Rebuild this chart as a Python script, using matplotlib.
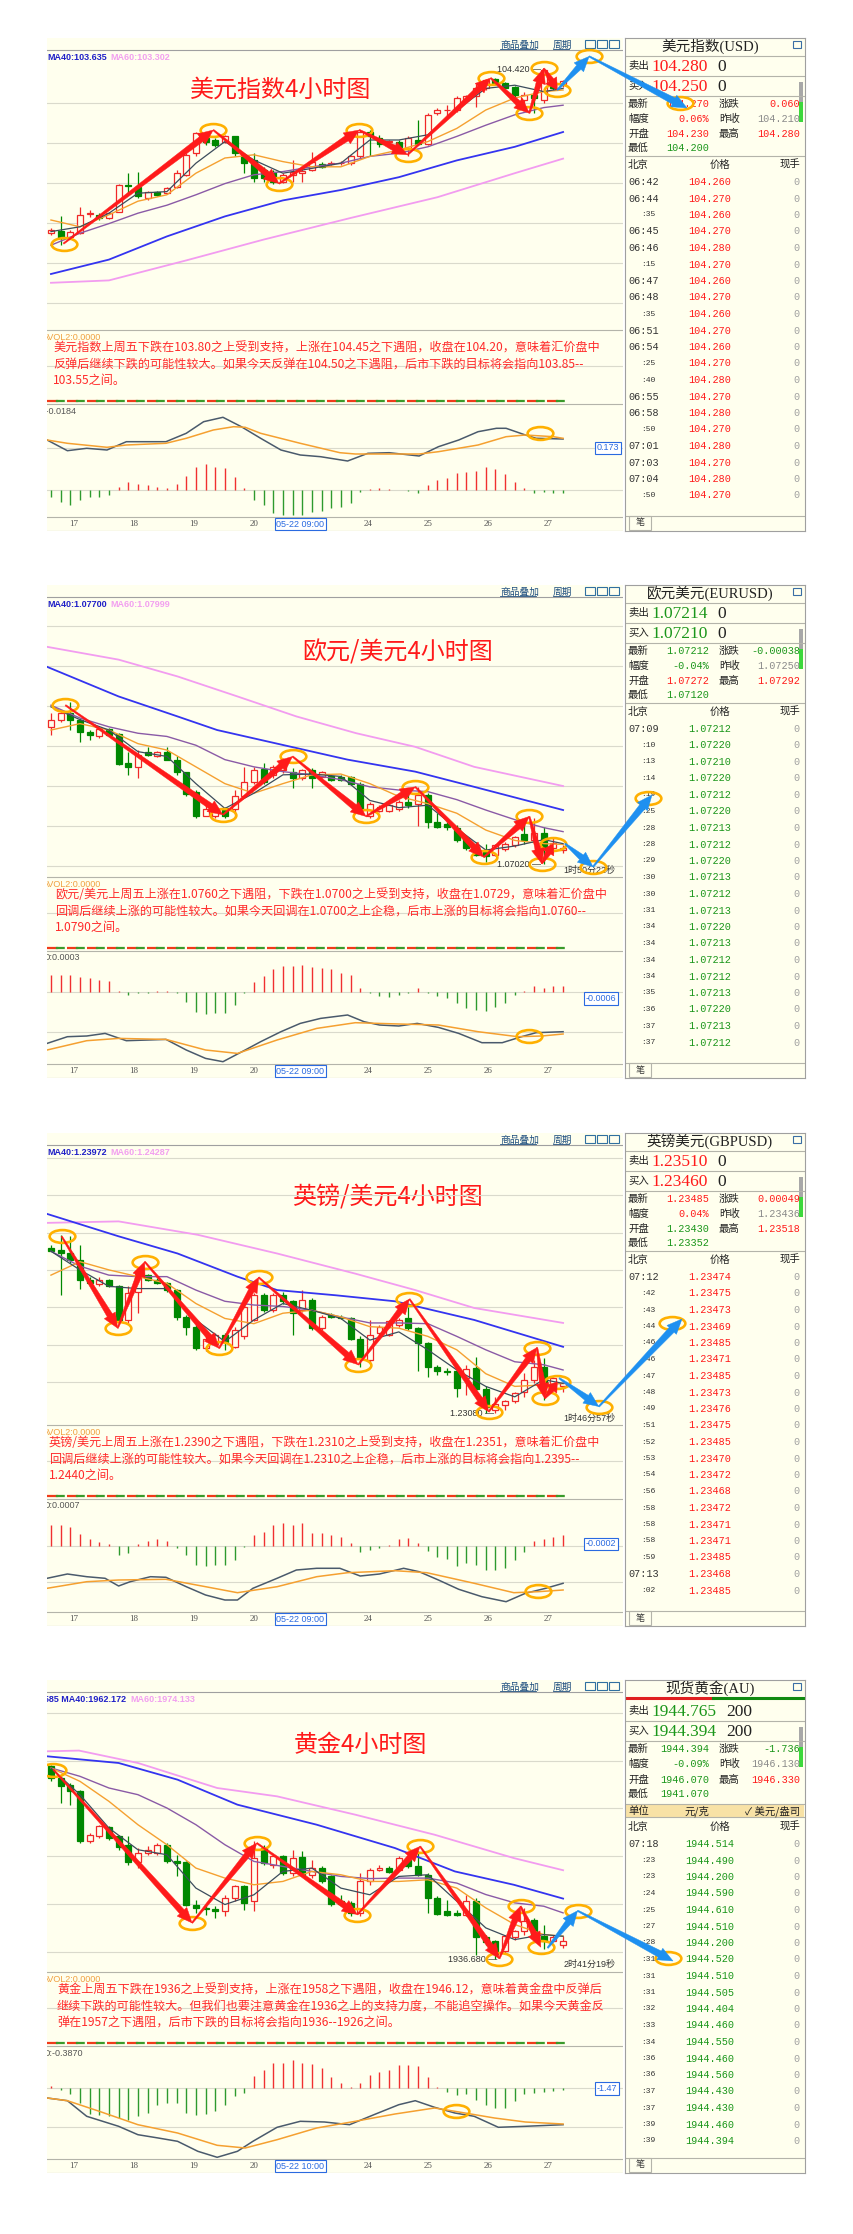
import numpy as np
import matplotlib.pyplot as plt
from matplotlib.patches import Rectangle, Polygon
from matplotlib.path import Path
from matplotlib.transforms import Affine2D

plt.rcParams['font.family'] = ['Noto Sans CJK SC', 'DejaVu Sans']

# ---------------- 数据 (从截图读取) ----------------
ma_idx = [0, 3, 6, 9, 12, 15, 18, 21, 24, 27, 30, 33, 36, 39, 42, 45, 48, 51, 53]
day_ticks = [2.4, 8.6, 14.8, 21.0, 32.8, 39.0, 45.2, 51.4]
day_labels = ['17', '18', '19', '20', '24', '25', '26', '27']

# 美元指数
usd_open = [102.37, 102.40, 102.32, 102.37, 102.61, 102.60, 102.56, 102.64, 102.97, 102.95,
            102.81, 102.89, 102.87, 102.95, 103.10, 103.37, 103.56, 103.535, 103.515, 103.58,
            103.35, 103.285, 103.16, 103.14, 103.015, 103.10, 103.12, 103.16, 103.235, 103.24,
            103.245, 103.245, 103.33, 103.64, 103.56, 103.515, 103.515, 103.43, 103.535, 103.49,
            103.87, 103.91, 103.91, 104.035, 104.08, 104.18, 104.30, 104.25, 104.20, 104.035,
            104.10, 104.035, 104.26, 104.24]
usd_close = [102.41, 102.31, 102.39, 102.60, 102.62, 102.56, 102.62, 102.97, 102.96, 102.83,
             102.89, 102.85, 102.93, 103.12, 103.35, 103.62, 103.515, 103.47, 103.58, 103.37,
             103.245, 103.06, 103.06, 103.015, 103.10, 103.14, 103.15, 103.265, 103.20, 103.245,
             103.25, 103.33, 103.64, 103.58, 103.49, 103.52, 103.45, 103.56, 103.49, 103.85,
             103.91, 103.915, 104.06, 104.08, 104.18, 104.285, 104.25, 104.19, 104.10, 104.10,
             104.06, 104.41, 104.18, 104.27]
usd_high = [102.43, 102.58, 102.41, 102.70, 102.66, 102.62, 102.64, 102.98, 103.12, 103.14,
            102.90, 102.90, 102.95, 103.16, 103.37, 103.63, 103.64, 103.56, 103.60, 103.59,
            103.37, 103.37, 103.20, 103.16, 103.12, 103.285, 103.20, 103.39, 103.26, 103.27,
            103.27, 103.35, 103.66, 103.66, 103.60, 103.54, 103.53, 103.58, 103.785, 103.87,
            103.93, 103.97, 104.08, 104.10, 104.24, 104.30, 104.31, 104.26, 104.21, 104.14,
            104.14, 104.42, 104.28, 104.28]
usd_low = [102.35, 102.22, 102.30, 102.36, 102.57, 102.54, 102.55, 102.63, 102.87, 102.81,
           102.79, 102.84, 102.86, 102.93, 103.09, 103.33, 103.47, 103.45, 103.50, 103.33,
           103.12, 103.015, 103.015, 102.99, 103.00, 103.015, 103.015, 103.15, 103.18, 103.22,
           103.22, 103.22, 103.31, 103.33, 103.45, 103.49, 103.43, 103.33, 103.47, 103.47,
           103.85, 103.83, 103.89, 104.02, 103.95, 104.16, 104.22, 104.17, 104.06, 103.91,
           103.87, 104.00, 104.16, 104.20]
usd_ma5 = [102.39, 102.45, 102.62, 102.87, 102.89, 103.245, 103.515, 103.285, 103.12, 103.18,
           103.245, 103.535, 103.535, 103.60, 103.91, 104.18, 104.22, 104.14, 104.18]
usd_ma10 = [102.535, 102.45, 102.60, 102.77, 102.85, 103.12, 103.31, 103.35, 103.265, 103.20,
            103.20, 103.33, 103.41, 103.515, 103.68, 103.91, 104.06, 104.14, 104.16]
usd_ma20 = [102.22, 102.37, 102.49, 102.62, 102.72, 102.85, 102.99, 103.10, 103.14, 103.20,
            103.245, 103.33, 103.37, 103.45, 103.58, 103.72, 103.85, 103.94, 103.97]
usd_ma40_idx = [0, 6, 12, 18, 24, 30, 36, 42, 48, 53]
usd_ma40 = [101.86, 102.04, 102.33, 102.58, 102.78, 102.91, 103.07, 103.28, 103.45, 103.635]
usd_ma60_idx = [0, 6, 14, 22, 31, 40, 48, 53]
usd_ma60 = [101.75, 101.78, 102.03, 102.29, 102.56, 102.82, 103.12, 103.302]
usd_hist = [-0.067, -0.117, -0.15, -0.10, -0.067, -0.067, -0.05, 0.033, 0.083, 0.06,
            0.05, 0.033, 0.017, 0.06, 0.14, 0.233, 0.26, 0.233, 0.217, 0.127,
            0.017, -0.10, -0.15, -0.233, -0.25, -0.25, -0.25, -0.217, -0.207, -0.183,
            -0.167, -0.133, -0.023, 0.007, 0.017, 0.01, 0.003, -0.007, -0.027, 0.05,
            0.10, 0.117, 0.167, 0.177, 0.193, 0.227, 0.207, 0.16, 0.083, 0.017,
            -0.033, -0.023, -0.033, -0.033]
usd_dif_idx = [-0.4, 1.7, 3.7, 5.8, 7.8, 11.9, 14.0, 15.8, 17.8, 19.7, 21.7, 23.8, 25.8,
               27.9, 30.7, 32.8, 35.0, 38.1, 40.1, 42.2, 44.2, 46.1, 47.1, 49.1, 50.2, 53.0]
usd_dif = [0.50, 0.393, 0.417, 0.40, 0.483, 0.483, 0.567, 0.683, 0.727, 0.633, 0.517, 0.40, 0.35,
           0.333, 0.29, 0.367, 0.373, 0.34, 0.433, 0.50, 0.583, 0.617, 0.617, 0.55, 0.517, 0.51]
usd_dea_idx = [-0.4, 1.7, 5.8, 7.8, 11.9, 14.0, 16.8, 18.9, 20.1, 21.7, 25.8, 29.9, 31.5,
               38.1, 40.1, 44.2, 47.1, 49.1, 52.0, 53.0]
usd_dea = [0.50, 0.467, 0.427, 0.45, 0.467, 0.517, 0.60, 0.633, 0.627, 0.567, 0.467, 0.373, 0.36,
           0.36, 0.383, 0.45, 0.533, 0.55, 0.533, 0.517]
usd_zig_idx = [1.3, 16.8, 23.6, 31.9, 36.9, 45.5, 49.5, 51.0, 52.4]
usd_zig = [102.24, 103.66, 102.99, 103.66, 103.35, 104.31, 103.87, 104.43, 104.16]
usd_blue_idx = [52.4, 55.7]
usd_blue = [104.16, 104.58]

# 欧元/美元
eur_open = [1.0874, 1.0883, 1.0891, 1.0883, 1.0868, 1.0862, 1.0871, 1.0865, 1.0829, 1.0824,
            1.0843, 1.0838, 1.0842, 1.0833, 1.0817, 1.0792, 1.0762, 1.0762, 1.0772, 1.0771,
            1.0788, 1.0805, 1.0821, 1.0814, 1.0820, 1.0818, 1.0810, 1.0820, 1.0811, 1.0812,
            1.0811, 1.0811, 1.0803, 1.0762, 1.0769, 1.0769, 1.0771, 1.0780, 1.0778, 1.0789,
            1.0755, 1.0753, 1.0748, 1.0735, 1.0724, 1.0720, 1.0714, 1.0721, 1.0726, 1.0740,
            1.0733, 1.0741, 1.0722, 1.0720]
eur_close = [1.0883, 1.0891, 1.0883, 1.0868, 1.0864, 1.0871, 1.0864, 1.0828, 1.0824, 1.0839,
             1.0839, 1.0842, 1.0833, 1.0817, 1.0790, 1.0762, 1.0771, 1.0770, 1.0762, 1.0788,
             1.0805, 1.0820, 1.0805, 1.0824, 1.0829, 1.0810, 1.0820, 1.0810, 1.0817, 1.0808,
             1.0808, 1.0803, 1.0770, 1.0778, 1.0774, 1.0776, 1.0780, 1.0776, 1.0789, 1.0755,
             1.0749, 1.0749, 1.0733, 1.0722, 1.0714, 1.0712, 1.0726, 1.0728, 1.0736, 1.0732,
             1.0741, 1.0720, 1.0729, 1.0723]
eur_high = [1.0891, 1.0895, 1.0905, 1.0885, 1.0870, 1.0873, 1.0873, 1.0866, 1.0842, 1.0845,
            1.0849, 1.0844, 1.0849, 1.0837, 1.0818, 1.0795, 1.0776, 1.0772, 1.0774, 1.0795,
            1.0824, 1.0824, 1.0829, 1.0826, 1.0835, 1.0822, 1.0821, 1.0822, 1.0819, 1.0814,
            1.0814, 1.0812, 1.0805, 1.0780, 1.0776, 1.0778, 1.0782, 1.0791, 1.0799, 1.0791,
            1.0766, 1.0755, 1.0751, 1.0737, 1.0730, 1.0728, 1.0728, 1.0730, 1.0738, 1.0753,
            1.0760, 1.0749, 1.0735, 1.0726]
eur_low = [1.0864, 1.0880, 1.0870, 1.0855, 1.0858, 1.0860, 1.0862, 1.0826, 1.0814, 1.0810,
           1.0837, 1.0836, 1.0832, 1.0814, 1.0787, 1.0760, 1.0762, 1.0760, 1.0760, 1.0760,
           1.0787, 1.0803, 1.0803, 1.0810, 1.0816, 1.0797, 1.0808, 1.0797, 1.0810, 1.0806,
           1.0806, 1.0801, 1.0768, 1.0760, 1.0767, 1.0767, 1.0769, 1.0772, 1.0750, 1.0747,
           1.0748, 1.0745, 1.0730, 1.0720, 1.0712, 1.0705, 1.0712, 1.0719, 1.0724, 1.0728,
           1.0730, 1.0702, 1.0716, 1.0716]
eur_ma5 = [1.0899, 1.0883, 1.0870, 1.0843, 1.0837, 1.0803, 1.0772, 1.0791, 1.0814, 1.0815,
           1.0812, 1.0782, 1.0773, 1.0776, 1.0747, 1.0720, 1.0725, 1.0733, 1.0728]
eur_ma10 = [1.0870, 1.0878, 1.0870, 1.0853, 1.0845, 1.0824, 1.0803, 1.0791, 1.0803, 1.0814,
            1.0815, 1.0803, 1.0787, 1.0778, 1.0766, 1.0745, 1.0732, 1.0728, 1.0727]
eur_ma20 = [1.0901, 1.0885, 1.0874, 1.0866, 1.0862, 1.0851, 1.0833, 1.0824, 1.0818, 1.0814,
            1.0808, 1.0799, 1.0795, 1.0793, 1.0783, 1.0770, 1.0758, 1.0748, 1.0743]
eur_ma40_idx = [-0.4, 7.0, 13.1, 17.2, 23.4, 30.7, 37.7, 43.8, 53.0]
eur_ma40 = [1.0949, 1.0912, 1.0887, 1.0870, 1.0853, 1.0833, 1.0818, 1.0799, 1.0770]
eur_ma60_idx = [-0.4, 7.0, 13.1, 19.3, 25.4, 31.6, 37.7, 43.8, 53.0]
eur_ma60 = [1.0974, 1.0958, 1.0937, 1.0912, 1.0887, 1.0866, 1.0849, 1.0824, 1.0800]
eur_hist = [0.167, 0.167, 0.167, 0.15, 0.133, 0.117, 0.11, 0.01, -0.033, -0.017,
            -0.01, 0.007, 0.007, -0.017, -0.107, -0.2, -0.227, -0.217, -0.21, -0.133,
            -0.01, 0.10, 0.157, 0.223, 0.257, 0.257, 0.267, 0.25, 0.233, 0.223,
            0.19, 0.167, 0.033, -0.017, -0.043, -0.057, -0.033, -0.01, 0.033, -0.01,
            -0.043, -0.067, -0.117, -0.16, -0.183, -0.193, -0.15, -0.11, -0.033, 0.007,
            0.057, 0.033, 0.057, 0.057]
eur_dif_idx = [-0.4, 1.7, 3.7, 5.6, 7.8, 11.9, 14.0, 16.0, 17.8, 20.1, 21.7, 23.8, 25.8,
               27.9, 30.7, 32.4, 34.0, 36.0, 37.9, 40.1, 42.2, 44.6, 46.7, 48.7, 50.2, 53.0]
eur_dif = [-0.517, -0.45, -0.443, -0.417, -0.49, -0.477, -0.583, -0.667, -0.70, -0.583, -0.50,
           -0.40, -0.317, -0.267, -0.233, -0.30, -0.333, -0.343, -0.317, -0.357, -0.417, -0.51,
           -0.51, -0.45, -0.41, -0.40]
eur_dea_idx = [-0.4, 3.7, 7.0, 11.9, 16.0, 19.3, 23.4, 27.5, 31.5, 36.0, 40.1, 44.2, 48.3, 50.8, 53.0]
eur_dea = [-0.583, -0.49, -0.467, -0.477, -0.583, -0.617, -0.483, -0.367, -0.31, -0.323, -0.333,
           -0.40, -0.45, -0.443, -0.423]
eur_zig_idx = [1.5, 17.8, 25.0, 32.6, 37.7, 44.8, 49.5, 50.8, 52.0]
eur_zig = [1.0901, 1.0764, 1.0837, 1.0762, 1.0799, 1.0711, 1.0762, 1.0703, 1.0728]
eur_blue_idx = [53.2, 56.1]
eur_blue = [1.0728, 1.0699]

# 英镑/美元
gbp_open = [1.2530, 1.2527, 1.2522, 1.2513, 1.2487, 1.2481, 1.2486, 1.2479, 1.2433, 1.2470,
            1.2493, 1.2487, 1.2483, 1.2473, 1.2437, 1.2424, 1.2395, 1.2401, 1.2413, 1.2397,
            1.2411, 1.2433, 1.2466, 1.2446, 1.2466, 1.2458, 1.2446, 1.2460, 1.2422, 1.2440,
            1.2437, 1.2435, 1.2408, 1.2379, 1.2415, 1.2413, 1.2426, 1.2435, 1.2422, 1.2402,
            1.2370, 1.2365, 1.2364, 1.2355, 1.2368, 1.2340, 1.2312, 1.2319, 1.2324, 1.2337,
            1.2353, 1.2370, 1.2344, 1.2344]
gbp_close = [1.2526, 1.2522, 1.2513, 1.2487, 1.2482, 1.2487, 1.2479, 1.2433, 1.2469, 1.2495,
             1.2487, 1.2483, 1.2473, 1.2437, 1.2424, 1.2395, 1.2408, 1.2413, 1.2403, 1.2420,
             1.2451, 1.2466, 1.2446, 1.2466, 1.2458, 1.2442, 1.2460, 1.2422, 1.2437, 1.2437,
             1.2435, 1.2408, 1.2382, 1.2413, 1.2424, 1.2431, 1.2433, 1.2422, 1.2402, 1.2370,
             1.2364, 1.2363, 1.2342, 1.2367, 1.2340, 1.2317, 1.2321, 1.2324, 1.2335, 1.2353,
             1.2370, 1.2346, 1.2355, 1.2348]
gbp_high = [1.2533, 1.2547, 1.2545, 1.2533, 1.2491, 1.2491, 1.2488, 1.2480, 1.2478, 1.2500,
            1.2495, 1.2489, 1.2484, 1.2475, 1.2440, 1.2426, 1.2411, 1.2415, 1.2415, 1.2424,
            1.2453, 1.2469, 1.2469, 1.2469, 1.2471, 1.2460, 1.2473, 1.2462, 1.2440, 1.2442,
            1.2439, 1.2437, 1.2411, 1.2433, 1.2426, 1.2433, 1.2435, 1.2451, 1.2424, 1.2404,
            1.2373, 1.2368, 1.2370, 1.2373, 1.2384, 1.2344, 1.2330, 1.2326, 1.2337, 1.2362,
            1.2379, 1.2382, 1.2357, 1.2350]
gbp_low = [1.2525, 1.2466, 1.2509, 1.2475, 1.2478, 1.2478, 1.2477, 1.2431, 1.2429, 1.2442,
           1.2485, 1.2481, 1.2471, 1.2433, 1.2413, 1.2393, 1.2391, 1.2399, 1.2393, 1.2395,
           1.2408, 1.2431, 1.2444, 1.2444, 1.2455, 1.2413, 1.2444, 1.2420, 1.2420, 1.2436,
           1.2434, 1.2406, 1.2370, 1.2377, 1.2413, 1.2411, 1.2424, 1.2420, 1.2364, 1.2357,
           1.2359, 1.2359, 1.2330, 1.2333, 1.2337, 1.2308, 1.2309, 1.2312, 1.2322, 1.2330,
           1.2348, 1.2326, 1.2339, 1.2337]
gbp_ma5 = [1.2525, 1.2500, 1.2478, 1.2475, 1.2475, 1.2433, 1.2404, 1.2433, 1.2455, 1.2446,
           1.2435, 1.2406, 1.2417, 1.2393, 1.2366, 1.2344, 1.2330, 1.2353, 1.2348]
gbp_ma10 = [1.2493, 1.2511, 1.2500, 1.2491, 1.2482, 1.2455, 1.2435, 1.2428, 1.2442, 1.2446,
            1.2437, 1.2424, 1.2422, 1.2411, 1.2393, 1.2361, 1.2344, 1.2346, 1.2348]
gbp_ma20 = [1.2525, 1.2505, 1.2493, 1.2491, 1.2491, 1.2473, 1.2458, 1.2453, 1.2451, 1.2446,
            1.2437, 1.2429, 1.2429, 1.2428, 1.2411, 1.2393, 1.2377, 1.2373, 1.2366]
gbp_ma40_idx = [-0.4, 7.0, 13.1, 19.3, 23.4, 29.5, 35.6, 43.8, 53.0]
gbp_ma40 = [1.2575, 1.2545, 1.2522, 1.2491, 1.2473, 1.2466, 1.2458, 1.2433, 1.2397]
gbp_ma60_idx = [-0.4, 7.0, 15.2, 23.4, 31.5, 37.7, 43.8, 53.0]
gbp_ma60 = [1.2563, 1.2565, 1.2547, 1.2522, 1.2495, 1.2473, 1.2449, 1.2429]
gbp_hist = [0.21, 0.21, 0.193, 0.117, 0.067, 0.043, 0.02, -0.09, -0.073, 0.02,
            0.053, 0.067, 0.053, -0.023, -0.09, -0.19, -0.20, -0.19, -0.19, -0.14,
            -0.013, 0.11, 0.143, 0.21, 0.227, 0.21, 0.227, 0.133, 0.127, 0.11,
            0.093, 0.033, -0.057, -0.04, -0.023, 0.01, 0.067, 0.077, 0.027, -0.047,
            -0.107, -0.133, -0.20, -0.173, -0.19, -0.24, -0.24, -0.223, -0.14, -0.057,
            0.053, 0.067, 0.093, 0.11]
gbp_dif_idx = [-0.4, 1.7, 3.7, 5.6, 7.0, 8.2, 10.3, 11.9, 14.0, 16.0, 18.0, 19.3, 20.9, 23.4,
               25.4, 27.5, 29.9, 32.0, 34.0, 36.5, 38.1, 40.1, 42.2, 44.6, 47.1, 49.1, 51.2, 53.0]
gbp_dif = [-0.323, -0.28, -0.307, -0.323, -0.40, -0.357, -0.307, -0.313, -0.407, -0.49, -0.54,
           -0.54, -0.423, -0.323, -0.24, -0.223, -0.223, -0.30, -0.28, -0.223, -0.257, -0.34,
           -0.433, -0.507, -0.557, -0.473, -0.423, -0.373]
gbp_dea_idx = [-0.4, 3.7, 7.0, 11.9, 16.0, 19.3, 23.4, 27.5, 30.7, 35.6, 38.9, 43.8, 47.9, 50.4, 53.0]
gbp_dea = [-0.423, -0.357, -0.34, -0.333, -0.407, -0.467, -0.407, -0.307, -0.267, -0.247, -0.267,
           -0.373, -0.467, -0.457, -0.44]
gbp_zig_idx = [1.1, 6.9, 9.7, 17.4, 21.5, 31.8, 37.1, 45.3, 50.3, 51.1, 52.4]
gbp_zig = [1.2545, 1.2422, 1.2511, 1.2395, 1.2490, 1.2373, 1.2461, 1.2310, 1.2396, 1.2328, 1.2350]
gbp_blue_idx = [52.6, 56.7]
gbp_blue = [1.2355, 1.2317]

# 黄金
xau_open = [2017.7, 2012.8, 2010.0, 2007.5, 1986.5, 1988.3, 1992.1, 1988.3, 1984.8, 1977.6,
            1981.3, 1981.3, 1984.8, 1978.1, 1977.6, 1959.7, 1958.3, 1958.0, 1956.9, 1962.5,
            1967.3, 1961.1, 1983.4, 1976.4, 1979.9, 1972.9, 1979.5, 1972.2, 1975.0, 1971.5,
            1961.1, 1960.4, 1956.2, 1969.4, 1974.3, 1975.0, 1974.3, 1978.5, 1975.7, 1972.2,
            1962.5, 1956.9, 1956.2, 1955.5, 1961.1, 1945.9, 1944.3, 1940.1, 1945.9, 1948.5,
            1953.4, 1946.4, 1944.5, 1942.9]
xau_close = [2012.8, 2009.3, 2007.5, 1986.5, 1989.0, 1992.5, 1987.6, 1983.7, 1977.6, 1981.3,
             1982.7, 1984.8, 1977.8, 1977.1, 1959.7, 1958.3, 1958.0, 1957.1, 1962.5, 1967.3,
             1960.4, 1979.2, 1977.1, 1979.9, 1972.9, 1979.2, 1972.2, 1975.0, 1969.4, 1959.9,
             1959.9, 1956.2, 1969.4, 1974.3, 1975.0, 1973.4, 1979.2, 1975.7, 1972.2, 1962.5,
             1955.7, 1955.5, 1955.5, 1961.1, 1945.9, 1944.0, 1939.0, 1946.4, 1948.5, 1952.7,
             1947.1, 1944.5, 1945.9, 1944.4]
xau_high = [2018.4, 2014.2, 2010.7, 2007.9, 1989.7, 1993.2, 1992.5, 1989.0, 1988.3, 1983.4,
            1984.1, 1985.5, 1985.5, 1980.6, 1978.1, 1961.8, 1959.0, 1959.0, 1963.9, 1968.0,
            1968.0, 1986.2, 1984.8, 1980.6, 1980.6, 1982.7, 1982.0, 1978.5, 1975.7, 1972.2,
            1963.9, 1961.1, 1972.9, 1975.0, 1976.4, 1975.7, 1979.9, 1979.2, 1982.0, 1972.9,
            1963.2, 1961.8, 1957.6, 1963.9, 1962.5, 1947.1, 1945.0, 1947.1, 1949.2, 1958.3,
            1954.1, 1951.3, 1947.1, 1946.4]
xau_low = [2011.4, 2002.3, 2001.6, 1985.5, 1985.5, 1987.6, 1986.9, 1982.7, 1976.4, 1975.0,
           1980.6, 1980.6, 1977.1, 1971.5, 1959.0, 1956.2, 1955.5, 1954.1, 1954.8, 1961.1,
           1957.6, 1956.9, 1976.4, 1975.0, 1972.2, 1971.5, 1971.5, 1970.8, 1968.7, 1959.0,
           1959.0, 1954.8, 1954.8, 1968.0, 1973.6, 1972.9, 1973.6, 1975.0, 1971.5, 1956.2,
           1955.5, 1954.8, 1954.8, 1954.8, 1938.7, 1942.9, 1936.7, 1939.4, 1945.0, 1947.1,
           1946.4, 1941.1, 1944.3, 1941.5]
xau_ma5 = [2017.0, 2005.8, 1991.8, 1982.7, 1980.6, 1966.6, 1959.7, 1963.8, 1973.6, 1975.0,
           1966.6, 1963.8, 1971.5, 1972.2, 1961.1, 1949.9, 1945.0, 1947.1, 1946.4]
xau_ma10 = [2017.0, 2011.4, 2003.0, 1993.2, 1984.8, 1975.0, 1970.8, 1968.0, 1969.4, 1973.6,
            1972.2, 1969.4, 1969.4, 1970.1, 1966.6, 1958.3, 1951.3, 1947.1, 1946.4]
xau_ma20 = [2017.0, 2013.5, 2008.6, 2005.8, 2000.2, 1993.2, 1984.8, 1977.8, 1975.7, 1973.6,
            1971.5, 1970.6, 1970.8, 1970.8, 1968.7, 1963.9, 1960.4, 1959.0, 1956.2]
xau_ma40_idx = [-0.4, 7.0, 13.1, 19.3, 27.5, 35.6, 41.8, 47.9, 53.0]
xau_ma40 = [2021.9, 2019.1, 2012.1, 2001.6, 1993.2, 1983.4, 1973.6, 1968.0, 1962.2]
xau_ma60_idx = [-0.4, 2.9, 9.0, 17.2, 23.4, 31.5, 39.7, 47.9, 53.0]
xau_ma60 = [2024.0, 2024.3, 2019.1, 2008.6, 2005.1, 1997.4, 1989.0, 1979.2, 1974.1]
xau_hist = [0.017, -0.017, -0.06, -0.15, -0.26, -0.267, -0.283, -0.30, -0.317, -0.283,
            -0.25, -0.167, -0.15, -0.15, -0.25, -0.267, -0.26, -0.233, -0.167, -0.083,
            -0.05, 0.117, 0.183, 0.25, 0.25, 0.283, 0.25, 0.24, 0.20, 0.107,
            0.05, 0.007, 0.05, 0.127, 0.16, 0.183, 0.227, 0.227, 0.217, 0.107,
            0.007, -0.04, -0.073, -0.06, -0.117, -0.167, -0.20, -0.20, -0.133, -0.06,
            -0.05, -0.04, -0.027, -0.017]
xau_dif_idx = [-0.4, 1.7, 3.7, 7.0, 9.0, 11.1, 13.1, 15.2, 17.2, 19.3, 20.9, 23.4, 25.8, 28.3,
               30.9, 33.6, 36.0, 37.7, 39.7, 41.8, 43.8, 46.3, 49.1, 53.0]
xau_dif = [-0.10, -0.127, -0.283, -0.383, -0.467, -0.50, -0.533, -0.633, -0.693, -0.633, -0.533,
           -0.393, -0.333, -0.34, -0.367, -0.26, -0.167, -0.127, -0.193, -0.25, -0.283, -0.393,
           -0.383, -0.367]
xau_dea_idx = [-0.4, 1.7, 5.0, 9.0, 13.1, 17.2, 20.1, 23.4, 27.5, 31.5, 35.6, 39.7, 41.8, 45.9, 49.1, 53.0]
xau_dea = [-0.10, -0.127, -0.233, -0.367, -0.45, -0.573, -0.60, -0.517, -0.40, -0.333, -0.26,
           -0.20, -0.233, -0.30, -0.34, -0.36]
xau_zig_idx = [0.25, 14.6, 21.3, 31.7, 38.2, 46.4, 48.6, 50.7]
xau_zig = [2016.3, 1952.0, 1985.5, 1955.5, 1984.1, 1937.0, 1959.0, 1941.8]
xau_blue_idx = [51.4, 54.5]
xau_blue = [1941.5, 1957.1]

# 右侧报价
usd_quote = [('最新', '104.270', 'r'), ('涨跌', '0.060', 'r'), ('幅度', '0.06%', 'r'), ('昨收', '104.210', 'k'),
             ('开盘', '104.230', 'r'), ('最高', '104.280', 'r'), ('最低', '104.200', 'g')]
usd_times = ['06:42', '06:44', ':35', '06:45', '06:46', ':15', '06:47', '06:48', ':35', '06:51',
             '06:54', ':25', ':40', '06:55', '06:58', ':50', '07:01', '07:03', '07:04', ':50']
usd_ticks = ['104.260', '104.270', '104.260', '104.270', '104.280', '104.270', '104.260', '104.270',
             '104.260', '104.270', '104.260', '104.270', '104.280', '104.270', '104.280', '104.270',
             '104.280', '104.270', '104.280', '104.270']
eur_quote = [('最新', '1.07212', 'g'), ('涨跌', '-0.00038', 'g'), ('幅度', '-0.04%', 'g'), ('昨收', '1.07250', 'k'),
             ('开盘', '1.07272', 'r'), ('最高', '1.07292', 'r'), ('最低', '1.07120', 'g')]
eur_times = ['07:09', ':10', ':13', ':14', ':19', ':25', ':28', ':28', ':29', ':30',
             ':30', ':31', ':34', ':34', ':34', ':34', ':35', ':36', ':37', ':37']
eur_ticks = ['1.07212', '1.07220', '1.07210', '1.07220', '1.07212', '1.07220', '1.07213', '1.07212',
             '1.07220', '1.07213', '1.07212', '1.07213', '1.07220', '1.07213', '1.07212', '1.07212',
             '1.07213', '1.07220', '1.07213', '1.07212']
gbp_quote = [('最新', '1.23485', 'r'), ('涨跌', '0.00049', 'r'), ('幅度', '0.04%', 'r'), ('昨收', '1.23436', 'k'),
             ('开盘', '1.23430', 'g'), ('最高', '1.23518', 'r'), ('最低', '1.23352', 'g')]
gbp_times = ['07:12', ':42', ':43', ':44', ':46', ':46', ':47', ':48', ':49', ':51',
             ':52', ':53', ':54', ':56', ':58', ':58', ':58', ':59', '07:13', ':02']
gbp_ticks = ['1.23474', '1.23475', '1.23473', '1.23469', '1.23485', '1.23471', '1.23485', '1.23473',
             '1.23476', '1.23475', '1.23485', '1.23470', '1.23472', '1.23468', '1.23472', '1.23471',
             '1.23471', '1.23485', '1.23468', '1.23485']
xau_quote = [('最新', '1944.394', 'g'), ('涨跌', '-1.736', 'g'), ('幅度', '-0.09%', 'g'), ('昨收', '1946.130', 'k'),
             ('开盘', '1946.070', 'g'), ('最高', '1946.330', 'r'), ('最低', '1941.070', 'g')]
xau_times = ['07:18', ':23', ':23', ':24', ':25', ':27', ':28', ':31', ':31', ':31',
             ':32', ':33', ':34', ':36', ':36', ':37', ':37', ':39', ':39']
xau_ticks = ['1944.514', '1944.490', '1944.200', '1944.590', '1944.610', '1944.510', '1944.200',
             '1944.520', '1944.510', '1944.505', '1944.404', '1944.460', '1944.550', '1944.460',
             '1944.560', '1944.430', '1944.430', '1944.460', '1944.394']

# ---------------- 样式 ----------------
W, H = 854, 2234
BG = '#FFFFEE'
GRID = '#DADACC'
LINE = '#B4B4AA'
RED = '#F02828'
GREEN = '#008800'
ZRED = '#FF1A1A'
BLUE = '#1E90F0'
ORANGE = '#FFB000'
COL = {'r': '#FF1A1A', 'g': '#1A961A', 'k': '#8A8A8A'}
MONO = ['Liberation Mono', 'DejaVu Sans Mono']
SERIF = ['Liberation Serif', 'Noto Sans CJK SC']
SANS = ['Liberation Sans', 'Noto Sans CJK SC']
XLIM = (-0.41, 59.2)
ELL = Path.unit_circle().transformed(Affine2D().scale(1.0, 0.5))
CIRC = dict(ls='none', marker=ELL, ms=18.5, mfc='none', mec=ORANGE, mew=1.9)

fig = plt.figure(figsize=(W / 100, H / 100), dpi=100)
fig.patch.set_facecolor('white')


def px_axes(x, y, w, h):
    ax = fig.add_axes([x / W, 1 - (y + h) / H, w / W, h / H])
    ax.set_xticks([])
    ax.set_yticks([])
    return ax


def no_spines(ax):
    for s in ax.spines.values():
        s.set_visible(False)


def taper_arrow(p0, p1, color, hl=15.0, hw=6.5, t0=0.7, t1=3.0):
    # 手绘风格的渐粗箭头 (p0, p1 为屏幕像素坐标)
    p0, p1 = np.asarray(p0, float), np.asarray(p1, float)
    d = p1 - p0
    L = np.hypot(*d)
    u = d / L
    n = np.array([-u[1], u[0]])
    hl = min(hl, 0.45 * L)
    b = p1 - u * hl
    pts = np.array([p0 + n * t0, b + n * t1, b + n * hw, p1, b - n * hw, b - n * t1, p0 - n * t0])
    verts = fig.transFigure.inverted().transform(pts)
    fig.add_artist(Polygon(verts, closed=True, transform=fig.transFigure, fc=color, ec=color,
                           lw=0.3, zorder=6))


def draw_side(T, title, sell, buy, vol, vol_x, big, quote, times, ticks, pcol, gold=False):
    sd = px_axes(625, T, 180, 493)
    sd.set_xlim(0, 180)
    sd.set_ylim(493, 0)
    sd.set_facecolor(BG)
    for s in sd.spines.values():
        s.set_color('#A0A0A0')
        s.set_linewidth(0.8)
    sd.text(85, 8, title, ha='center', va='center', fontsize=10.5, family=SERIF, color='#222222')
    sd.add_patch(Rectangle((168, 3), 8, 7, fill=False, ec='#3A6EA5', lw=0.8))
    if gold:
        sd.plot([2, 88], [18, 18], color='#E02020', lw=2.2)
        sd.plot([88, 178], [18, 18], color='#108A10', lw=2.2)
        sy, by, seps, qy, hy, r0 = 31, 51, [41, 61], [69, 84, 100, 114], 147, 164
        sd.add_patch(Rectangle((0.5, 124), 179, 13, color='#F8E2A6', lw=0))
        sd.text(3, 131, '单位', fontsize=7.5, va='center', color='#222222')
        sd.text(72, 131, '元/克', fontsize=7.5, va='center', ha='center', color='#222222')
        sd.text(175, 131, '✓ 美元/盎司', fontsize=7.5, va='center', ha='right', color='#222222',
                family=['Noto Sans CJK SC', 'DejaVu Sans'])
        sd.axhline(124, color=LINE, lw=0.8)
        sd.axhline(137, color=LINE, lw=0.8)
    else:
        sy, by, seps, qy, hy, r0 = 28, 48, [18, 38, 58, 118], [66, 81, 96, 110], 127, 144
    for y in seps:
        sd.axhline(y, color=LINE, lw=0.8)
    for y, lab, val in ((sy, '卖出', sell), (by, '买入', buy)):
        sd.text(3, y, lab, fontsize=7.5, va='center', color='#222222')
        sd.text(26, y + 1, val, fontsize=12.5, va='center', family=SERIF, color=COL[big])
        sd.text(vol_x, y + 1, vol, fontsize=12.5, va='center', family=SERIF, color='#222222')
    # 报价区
    for k, (lab, val, cc) in enumerate(quote):
        row, right = divmod(k, 2)
        y = qy[row]
        lx, vx = (94, 175) if right else (3, 84)
        sd.text(lx, y, lab, fontsize=7.5, va='center', color='#222222')
        sd.text(vx, y, val, fontsize=7.3, va='center', ha='right', family=MONO, color=COL[cc])
    # 滚动条
    sd.add_patch(Rectangle((174, qy[0] - 22), 4, 26, color='#A8A8A8', lw=0))
    sd.add_patch(Rectangle((174, qy[0] - 2), 4, 20, color='#3CD83C', lw=0))
    # 分笔成交
    sd.text(3, hy, '北京', fontsize=7.5, va='center', color='#222222')
    sd.text(95, hy, '价格', fontsize=7.5, va='center', ha='center', color='#222222')
    sd.text(175, hy, '现手', fontsize=7.5, va='center', ha='right', color='#222222')
    for k, (t, p) in enumerate(zip(times, ticks)):
        y = r0 + 16.5 * k
        if t.startswith(':'):
            sd.text(16, y, t, fontsize=5.8, va='center', family=MONO, color='#333333')
        else:
            sd.text(3, y, t, fontsize=7.3, va='center', family=MONO, color='#333333')
        sd.text(85, y, p, fontsize=7.3, va='center', ha='center', family=MONO, color=COL[pcol])
        sd.text(175, y, '0', fontsize=7.3, va='center', ha='right', family=MONO, color='#A0A0A0')
    sd.axhline(478, color=LINE, lw=0.8)
    sd.add_patch(Rectangle((4, 478), 22, 14, fill=False, ec=LINE, lw=0.8))
    sd.text(15, 485, '笔', fontsize=6.5, ha='center', va='center', color='#333333')
    return sd


def draw_chart(T, sd, o, h, l, c, mas, ylim, grid, hist, dif, dea, mlim, mgrid,
               zig, blue, target, side_circ, macd_circ, txt):
    o, h, l, c = (np.asarray(a, dtype=float) for a in (o, h, l, c))
    idx = np.arange(len(c))

    # 外框和文字区
    fr = px_axes(47, T, 576, 493)
    fr.set_xlim(47, 623)
    fr.set_ylim(T + 493, T)
    fr.set_facecolor(BG)
    no_spines(fr)
    for y, cc in ((T + 12, '#A0A0A0'), (T + 292, LINE), (T + 328, GRID), (T + 366, LINE),
                  (T + 479, LINE), (T + 493, '#A0A0A0')):
        fr.axhline(y, color=cc, lw=0.8)
    fr.plot([47, 567], [T + 363, T + 363], color='#F03A1A', lw=1.6, ls=(0, (5, 4)))
    fr.plot([47, 567], [T + 363, T + 363], color='#3A9A2A', lw=1.6, ls=(5, (4, 5)))
    fr.text(500, T + 6.5, '商品叠加', fontsize=7, va='center', color='#1F4F7F')
    fr.plot([500, 536], [T + 11, T + 11], color='#1F4F7F', lw=0.6)
    fr.text(553, T + 6.5, '周期', fontsize=7, va='center', color='#1F4F7F')
    fr.plot([553, 569], [T + 11, T + 11], color='#1F4F7F', lw=0.6)
    for x in (585, 597, 609):
        fr.add_patch(Rectangle((x, T + 2), 10, 8, fill=False, ec='#3070A0', lw=0.8))
    t1 = fr.text(txt['ma_x'], T + 20, txt['ma40'], fontsize=6.5, va='center', color='#2020C8',
                 family=SANS, weight='bold', clip_on=True)
    fr.annotate(txt['ma60'], xy=(1, 0.5), xycoords=t1, xytext=(3, 0), textcoords='offset points',
                va='center', fontsize=6.5, color='#F2A0F0', family=SANS, weight='bold')
    fr.text(txt['title_x'], T + txt['title_y'], txt['title'], fontsize=17.3, va='center', color='#FF1A1A')
    fr.text(43, T + 300, 'AVOL2:0.0000', fontsize=6.5, va='center', color='#F0A040',
            family=SANS, clip_on=True)
    for k, s in enumerate(txt['body']):
        fr.text(txt['body_x'], T + 310 + 16 * k, s, fontsize=8.7, va='center', color='#FF2A2A')
    fr.text(43, T + 373, txt['macd'], fontsize=6.5, va='center', color='#555555', family=SANS, clip_on=True)

    # 主图 K线
    ax = px_axes(47, T + 12, 576, 280)
    ax.set_facecolor('none')
    no_spines(ax)
    ax.set_xlim(*XLIM)
    ax.set_ylim(*ylim)
    for g in grid:
        ax.axhline(g, color=GRID, lw=0.8, zorder=0)
    up = c >= o
    ax.vlines(idx, l, h, colors=np.where(up, RED, GREEN), lw=0.9, zorder=2)
    ax.bar(idx[up], (c - o)[up], bottom=o[up], width=0.62, facecolor=BG, edgecolor=RED, lw=0.9, zorder=3)
    ax.bar(idx[~up], (o - c)[~up], bottom=c[~up], width=0.62, facecolor=GREEN, edgecolor=GREEN, lw=0.9, zorder=3)
    for xi, yi, cc, lw in mas:
        ax.plot(xi, yi, color=cc, lw=lw, zorder=4)

    # 走势箭头
    zi, zp = zig
    zpix = ax.transData.transform(np.column_stack([zi, zp]))
    for k in range(len(zi) - 1):
        taper_arrow(zpix[k], zpix[k + 1], ZRED)
    ax.plot(zi, zp, zorder=7, **CIRC)
    bi, bp = blue
    bpix = ax.transData.transform(np.column_stack([bi, bp]))
    taper_arrow(bpix[0], bpix[1], BLUE)
    taper_arrow(bpix[1], sd.transData.transform(target), BLUE, t1=3.4)
    ax.plot(bi[1], bp[1], zorder=7, clip_on=False, **CIRC)
    sd.plot(*side_circ, zorder=9, **CIRC)
    lab, lx, ly = txt['extreme']
    ax.text(lx, ly, lab, fontsize=6.5, ha='right', va='center', family=SANS, color='#333333', zorder=5)
    if txt['timer']:
        s, tx, ty = txt['timer']
        ax.text(tx, ty, s, fontsize=6.5, va='center', color='#333333', zorder=5,
                family=['Liberation Sans', 'Noto Sans CJK SC'])

    # MACD
    am = px_axes(47, T + 366, 576, 113)
    am.set_facecolor('none')
    no_spines(am)
    am.set_xlim(*XLIM)
    am.set_ylim(*mlim)
    for g in mgrid:
        am.axhline(g, color=GRID, lw=0.8, zorder=0)
    hv = np.asarray(hist)
    am.vlines(idx, 0, hv, colors=np.where(hv >= 0, '#F03030', '#2E9A2E'), lw=1.0)
    am.plot(*dif, color='#4A5A6C', lw=1.1)
    am.plot(*dea, color='#F5A030', lw=1.1)
    am.plot(*macd_circ, **CIRC)
    bs, bx, by = txt['box']
    am.text(bx, by, bs, fontsize=6.5, va='center', color='#2A6AE0', family=SANS, clip_on=True,
            bbox=dict(boxstyle='square,pad=0.2', fc='white', ec='#2A6AE0', lw=0.8))
    am.set_xticks(day_ticks, day_labels)
    am.tick_params(axis='x', length=0, pad=2.5, labelsize=6.5, labelcolor='#555555')
    for t in am.get_xticklabels():
        t.set_family(SERIF)
    am.text(25.8, -0.065, txt['date'], transform=am.get_xaxis_transform(), ha='center', va='center',
            fontsize=6.5, color='#2A6AE0', family=SANS, clip_on=False,
            bbox=dict(boxstyle='square,pad=0.15', fc='white', ec='#2A6AE0', lw=0.8))


def ma_set(ma5, ma10, ma20, i40, ma40, i60, ma60):
    return [(i60, ma60, '#F29CF0', 1.3), (i40, ma40, '#3434F0', 1.3),
            (ma_idx, ma20, '#8A5AA6', 1.0), (ma_idx, ma10, '#F5A030', 1.0),
            (ma_idx, ma5, '#3C4C5C', 0.9)]


panel_tops = [38, 585, 1133, 1680]

# 美元指数
T = panel_tops[0]
sd = draw_side(T, '美元指数(USD)', '104.280', '104.250', '0', 92, 'r', usd_quote, usd_times, usd_ticks, 'r')
draw_chart(T, sd, usd_open, usd_high, usd_low, usd_close,
           ma_set(usd_ma5, usd_ma10, usd_ma20, usd_ma40_idx, usd_ma40, usd_ma60_idx, usd_ma60),
           (101.16, 104.66), [101.5, 102.0, 102.5, 103.0, 103.5, 104.0],
           usd_hist, (usd_dif_idx, usd_dif), (usd_dea_idx, usd_dea), (-0.27, 0.86), [0, 0.42],
           (usd_zig_idx, usd_zig), (usd_blue_idx, usd_blue), (62, 70), (55, 65), (50.6, 0.567),
           dict(title='美元指数4小时图', title_x=190, title_y=52, ma_x=47,
                ma40='MA40:103.635', ma60='MA60:103.302', body_x=53, macd=':-0.0184',
                body=['美元指数上周五下跌在103.80之上受到支持，上涨在104.45之下遇阻，收盘在104.20，意味着汇价盘中',
                      '反弹后继续下跌的可能性较大。如果今天反弹在104.50之下遇阻，后市下跌的目标将会指向103.85--',
                      '103.55之间。'],
                extreme=('104.420 —', 50.7, 104.42), timer=None,
                box=('0.173', 56.5, 0.42), date='05-22 09:00'))

# 欧元/美元
T = panel_tops[1]
sd = draw_side(T, '欧元美元(EURUSD)', '1.07214', '1.07210', '0', 92, 'g', eur_quote, eur_times, eur_ticks, 'g')
draw_chart(T, sd, eur_open, eur_high, eur_low, eur_close,
           ma_set(eur_ma5, eur_ma10, eur_ma20, eur_ma40_idx, eur_ma40, eur_ma60_idx, eur_ma60),
           (1.06863, 1.10363), [1.070, 1.075, 1.080, 1.085, 1.090, 1.095, 1.100],
           eur_hist, (eur_dif_idx, eur_dif), (eur_dea_idx, eur_dea), (-0.723, 0.407), [0, -0.40],
           (eur_zig_idx, eur_zig), (eur_blue_idx, eur_blue), (27, 210), (23, 213), (49.5, -0.443),
           dict(title='欧元/美元4小时图', title_x=302, title_y=68, ma_x=47,
                ma40='MA40:1.07700', ma60='MA60:1.07999', body_x=55, macd='D:0.0003',
                body=['欧元/美元上周五上涨在1.0760之下遇阻，下跌在1.0700之上受到支持，收盘在1.0729，意味着汇价盘中',
                      '回调后继续上涨的可能性较大。如果今天回调在1.0700之上企稳，后市上涨的目标将会指向1.0760--',
                      '1.0790之间。'],
                extreme=('1.07020 —', 50.7, 1.0702), timer=('1时50分22秒', 53.0, 1.0695),
                box=('-0.0006', 55.3, -0.067), date='05-22 09:00'))

# 英镑/美元
T = panel_tops[2]
sd = draw_side(T, '英镑美元(GBPUSD)', '1.23510', '1.23460', '0', 92, 'r', gbp_quote, gbp_times, gbp_ticks, 'r')
draw_chart(T, sd, gbp_open, gbp_high, gbp_low, gbp_close,
           ma_set(gbp_ma5, gbp_ma10, gbp_ma20, gbp_ma40_idx, gbp_ma40, gbp_ma60_idx, gbp_ma60),
           (1.22923, 1.26673), [1.235, 1.240, 1.245, 1.250, 1.255, 1.260, 1.265],
           gbp_hist, (gbp_dif_idx, gbp_dif), (gbp_dea_idx, gbp_dea), (-0.66, 0.47), [0, -0.36],
           (gbp_zig_idx, gbp_zig), (gbp_blue_idx, gbp_blue), (57, 186), (47, 190), (50.4, -0.447),
           dict(title='英镑/美元4小时图', title_x=292, title_y=65, ma_x=47,
                ma40='MA40:1.23972', ma60='MA60:1.24287', body_x=49, macd='D:0.0007',
                body=['英镑/美元上周五上涨在1.2390之下遇阻，下跌在1.2310之上受到支持，收盘在1.2351，意味着汇价盘中',
                      '回调后继续上涨的可能性较大。如果今天回调在1.2310之上企稳，后市上涨的目标将会指向1.2395--',
                      '1.2440之间。'],
                extreme=('1.23080 —', 45.8, 1.2308), timer=('1时46分57秒', 53.0, 1.2301),
                box=('-0.0002', 55.3, 0.02), date='05-22 09:00'))

# 黄金
T = panel_tops[3]
sd = draw_side(T, '现货黄金(AU)', '1944.765', '1944.394', '200', 101, 'g', xau_quote, xau_times, xau_ticks,
               'g', gold=True)
draw_chart(T, sd, xau_open, xau_high, xau_low, xau_close,
           ma_set(xau_ma5, xau_ma10, xau_ma20, xau_ma40_idx, xau_ma40, xau_ma60_idx, xau_ma60),
           (1931.40, 2048.88), [1940, 1960, 1980, 2000, 2020, 2040],
           xau_hist, (xau_dif_idx, xau_dif), (xau_dea_idx, xau_dea), (-0.71, 0.42), [0, -0.39],
           (xau_zig_idx, xau_zig), (xau_blue_idx, xau_blue), (48, 281), (43, 278), (41.9, -0.233),
           dict(title='黄金4小时图', title_x=294, title_y=65, ma_x=44,
                ma40='585 MA40:1962.172', ma60='MA60:1974.133', body_x=57, macd='D:-0.3870',
                body=['黄金上周五下跌在1936之上受到支持，上涨在1958之下遇阻，收盘在1946.12，意味着黄金盘中反弹后',
                      '继续下跌的可能性较大。但我们也要注意黄金在1936之上的支持力度，不能追空操作。如果今天黄金反',
                      '弹在1957之下遇阻，后市下跌的目标将会指向1936--1926之间。'],
                extreme=('1936.680 —', 46.2, 1936.7), timer=('2时41分19秒', 53.0, 1934.5),
                box=('-1.47', 56.5, -0.007), date='05-22 10:00'))

fig.savefig('out.png', dpi=100, facecolor='white')
